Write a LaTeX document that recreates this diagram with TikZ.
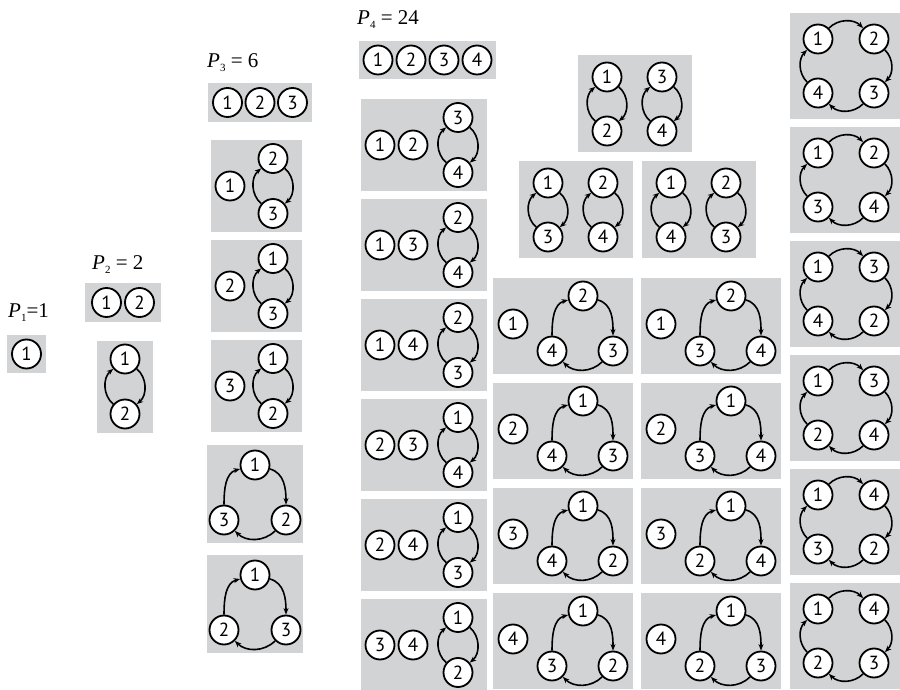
\documentclass[tikz,border=0pt]{standalone}
\usepackage{fontspec}
\usepackage{tikz}
\usepackage{xcolor}
\usetikzlibrary{arrows.meta}
\newfontfamily\numfont{PT Sans}
\newfontfamily\lblfont{Liberation Serif}
\newcommand{\perm}[2]{{\lblfont\textit{P}\raisebox{-0.35ex}{\fontsize{11}{11}\selectfont #1}#2}}
\definecolor{boxgray}{RGB}{209,211,212}

\begin{document}
\begin{tikzpicture}[x=1pt, y=1pt,
    >={Stealth[length=6.5pt,width=5pt]},
    num/.style={circle, draw, fill=white, line width=1.8pt, minimum size=29pt, inner sep=0pt, font=\numfont\fontsize{19}{19}\selectfont},
    box/.style={fill=boxgray},
    cyc/.style={->, line width=1.6pt},
    lbl/.style={anchor=base west, inner sep=0pt, font=\fontsize{21}{24}\selectfont}]
    \useasboundingbox (0,0) rectangle (900,689);

    % P_1
    \node[lbl] (p1) at (8,371) {\perm{1}{=1}};
    \fill[box] (7,354) rectangle (46,316);
    \node[num] (p1a) at (26.5,335) {1};

    % P_2
    \node[lbl] (p2) at (92,419) {\perm{2}{ = 2}};
    \fill[box] (85,406) rectangle (161,367);
    \node[num] (p2a) at (106.5,386.5) {1};
    \node[num] (p2b) at (139.5,386.5) {2};
    \fill[box] (97,348) rectangle (153,256);
    \node[num] (p2c) at (125,330) {1};
    \node[num] (p2d) at (125,275) {2};
    \draw[cyc] (p2c) to[out=-40,in=40] (p2d);
    \draw[cyc] (p2d) to[out=140,in=-140] (p2c);

    % P_3
    \node[lbl] (p3) at (207,621) {\perm{3}{ = 6}};
    \fill[box] (208,606) rectangle (312,567);
    \foreach \n in {1,2,3}
        \node[num] (p3\n) at ({195+32.5*\n},586.5) {\n};
    \foreach \a/\b/\c [count=\i] in {1/2/3, 2/1/3, 3/1/2} {
        \begin{scope}[shift={(211,{549-100*(\i-1)})}]
            \fill[box] (0,0) rectangle (91,-92);
            \node[num] (s) at (19,-46) {\a};
            \node[num] (t) at (62,-18.5) {\b};
            \node[num] (u) at (62,-73.5) {\c};
            \draw[cyc] (t) to[out=-40,in=40] (u);
            \draw[cyc] (u) to[out=140,in=-140] (t);
        \end{scope}
    }
    \foreach \b/\c [count=\i] in {3/2, 2/3} {
        \begin{scope}[shift={(207,{244-110*(\i-1)})}]
            \fill[box] (0,0) rectangle (96,-98);
            \node[num] (t) at (48,-20) {1};
            \node[num] (l) at (17,-75) {\b};
            \node[num] (r) at (79,-75) {\c};
            \draw[cyc] (t) to[out=-15,in=90] (r);
            \draw[cyc] (r) to[out=-135,in=-45] (l);
            \draw[cyc] (l) to[out=90,in=195] (t);
        \end{scope}
    }

    % P_4
    \node[lbl] (p4) at (357,664) {\perm{4}{ = 24}};
    \fill[box] (359,648) rectangle (496,610);
    \foreach \n in {1,2,3,4}
        \node[num] (p4\n) at ({345+33*\n},629) {\n};

    % one pair fixed, one 2-cycle
    \foreach \a/\b/\c/\d [count=\i] in {1/2/3/4, 1/3/2/4, 1/4/2/3, 2/3/1/4, 2/4/1/3, 3/4/1/2} {
        \begin{scope}[shift={(361,{590-100*(\i-1)})}]
            \fill[box] (0,0) rectangle (126,-92);
            \node[num] (s) at (19,-46) {\a};
            \node[num] (v) at (52,-46) {\b};
            \node[num] (t) at (97,-18.5) {\c};
            \node[num] (u) at (97,-73.5) {\d};
            \draw[cyc] (t) to[out=-40,in=40] (u);
            \draw[cyc] (u) to[out=140,in=-140] (t);
        \end{scope}
    }

    % two 2-cycles
    \foreach \x/\y/\a/\b/\c/\d in {578/634/1/2/3/4, 519/528/1/3/2/4, 642/528/1/4/2/3} {
        \begin{scope}[shift={(\x,\y)}]
            \fill[box] (0,0) rectangle (114,-97);
            \node[num] (a) at (29,-22) {\a};
            \node[num] (b) at (29,-76) {\b};
            \node[num] (c) at (84,-22) {\c};
            \node[num] (d) at (84,-76) {\d};
            \draw[cyc] (a) to[out=-40,in=40] (b);
            \draw[cyc] (b) to[out=140,in=-140] (a);
            \draw[cyc] (c) to[out=-40,in=40] (d);
            \draw[cyc] (d) to[out=140,in=-140] (c);
        \end{scope}
    }

    % one fixed, one 3-cycle
    \foreach \x/\y/\a/\b/\c/\d in {493/411/1/2/4/3, 641/411/1/2/3/4,
        493/306/2/1/4/3, 641/306/2/1/3/4, 493/201/3/1/4/2, 641/201/3/1/2/4,
        493/96/4/1/3/2, 641/96/4/1/2/3} {
        \begin{scope}[shift={(\x,\y)}]
            \fill[box] (0,0) rectangle (140,-96);
            \node[num] (s) at (20,-46) {\a};
            \node[num] (t) at (90,-18) {\b};
            \node[num] (l) at (59,-73) {\c};
            \node[num] (r) at (120,-73) {\d};
            \draw[cyc] (t) to[out=-15,in=90] (r);
            \draw[cyc] (r) to[out=-135,in=-45] (l);
            \draw[cyc] (l) to[out=90,in=195] (t);
        \end{scope}
    }

    % 4-cycles
    \foreach \b/\c/\d [count=\i] in {2/4/3, 2/3/4, 3/4/2, 3/2/4, 4/3/2, 4/2/3} {
        \begin{scope}[shift={(790,{676-114*(\i-1)})}]
            \fill[box] (0,0) rectangle (110,-106);
            \node[num] (a) at (28,-26) {1};
            \node[num] (b) at (84,-26) {\b};
            \node[num] (c) at (28,-80) {\c};
            \node[num] (d) at (84,-80) {\d};
            \draw[cyc] (a) to[out=45,in=135] (b);
            \draw[cyc] (b) to[out=-45,in=45] (d);
            \draw[cyc] (d) to[out=-135,in=-45] (c);
            \draw[cyc] (c) to[out=135,in=-135] (a);
        \end{scope}
    }
\end{tikzpicture}
\end{document}
